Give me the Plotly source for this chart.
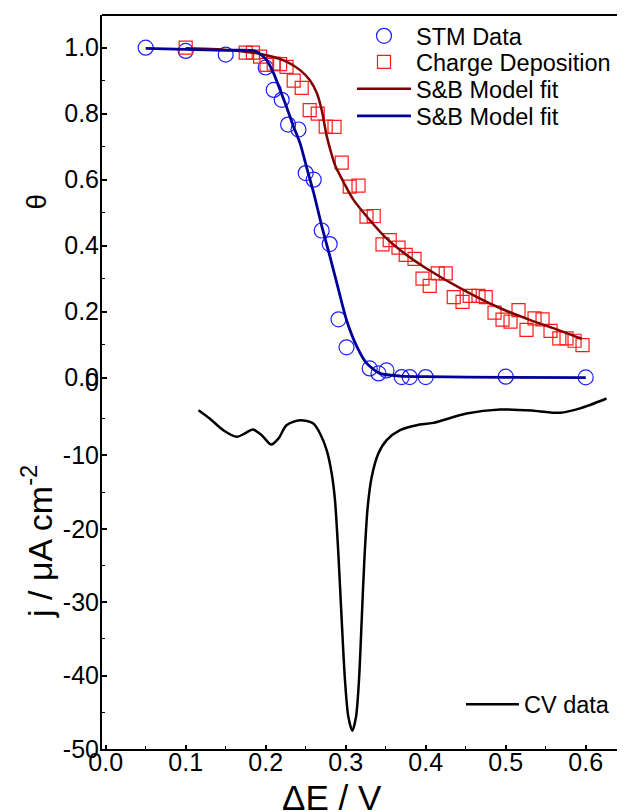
import plotly.graph_objects as go

# ---------------- data ----------------
stm_x = [0.05, 0.10, 0.15, 0.20, 0.21, 0.22, 0.228, 0.241, 0.25, 0.26, 0.27, 0.28,
         0.291, 0.301, 0.33, 0.341, 0.351, 0.37, 0.38, 0.40, 0.50, 0.60]
stm_theta = [1.0, 0.99, 0.979, 0.94, 0.872, 0.842, 0.767, 0.752, 0.62, 0.60, 0.446, 0.405,
             0.177, 0.092, 0.028, 0.013, 0.022, 0.002, 0.002, 0.002, 0.003, 0.001]

cd_x = [0.10, 0.175, 0.184, 0.193, 0.201, 0.21, 0.218, 0.226, 0.235, 0.245, 0.255, 0.265,
        0.275, 0.286, 0.295, 0.305, 0.316, 0.326, 0.335, 0.346, 0.355, 0.366, 0.375, 0.386,
        0.396, 0.405, 0.415, 0.425, 0.435, 0.446, 0.455, 0.466, 0.475, 0.486, 0.496, 0.506,
        0.516, 0.526, 0.536, 0.546, 0.556, 0.567, 0.576, 0.586, 0.596]
cd_theta = [1.0, 0.985, 0.985, 0.973, 0.948, 0.952, 0.95, 0.942, 0.90, 0.878, 0.811, 0.80,
            0.761, 0.76, 0.652, 0.579, 0.582, 0.488, 0.49, 0.404, 0.417, 0.394, 0.372, 0.36,
            0.30, 0.278, 0.316, 0.316, 0.244, 0.23, 0.248, 0.248, 0.244, 0.197, 0.176, 0.17,
            0.205, 0.145, 0.18, 0.177, 0.142, 0.119, 0.119, 0.112, 0.099]

fit_cd_x = [0.10, 0.164, 0.205, 0.226, 0.243, 0.255, 0.264, 0.27, 0.276, 0.282, 0.287,
            0.297, 0.31, 0.33, 0.351, 0.376, 0.401, 0.447, 0.489, 0.53, 0.572, 0.595]
fit_cd_theta = [0.998, 0.991, 0.975, 0.958, 0.932, 0.902, 0.862, 0.811, 0.735, 0.68, 0.642,
                0.594, 0.538, 0.478, 0.422, 0.372, 0.331, 0.266, 0.215, 0.175, 0.139, 0.118]

fit_stm_x = [0.05, 0.10, 0.15, 0.187, 0.201, 0.21, 0.218, 0.226, 0.234, 0.243, 0.252, 0.26,
             0.27, 0.28, 0.289, 0.301, 0.314, 0.326, 0.343, 0.368, 0.40, 0.50, 0.60]
fit_stm_theta = [0.998, 0.995, 0.992, 0.99, 0.963, 0.922, 0.872, 0.821, 0.766, 0.71, 0.63,
                 0.56, 0.46, 0.37, 0.286, 0.175, 0.094, 0.044, 0.013, 0.005, 0.003, 0.001, 0.0]

cv_x = [0.116, 0.130, 0.147, 0.164, 0.174, 0.184, 0.195, 0.207, 0.216, 0.226, 0.243, 0.2595,
        0.2679, 0.2762, 0.2825, 0.2866, 0.2908, 0.295, 0.2991, 0.3033, 0.3083, 0.3129,
        0.3166, 0.32, 0.3233, 0.3275, 0.3325, 0.3408, 0.3512, 0.3679, 0.3887, 0.4095,
        0.451, 0.493, 0.535, 0.568, 0.593, 0.626]
cv_j = [-3.84, -4.97, -6.57, -7.47, -7.0, -6.47, -7.25, -8.52, -7.7, -5.9, -5.2, -5.66,
        -7.02, -9.29, -12.47, -16.1, -23.37, -32.45, -40.63, -45.62, -47.53, -45.62,
        -40.63, -32.45, -24.28, -17.01, -12.93, -9.75, -7.93, -6.57, -5.89, -5.57,
        -4.3, -3.75, -3.9, -4.2, -3.6, -2.25]

x_ticks = [0.0, 0.1, 0.2, 0.3, 0.4, 0.5, 0.6]
theta_ticks = [0.0, 0.2, 0.4, 0.6, 0.8, 1.0]
j_ticks = [-50, -40, -30, -20, -10, 0]
j_tick_labels = ["-50", "-40", "-30", "-20", "-10", "0"]

FONT = "Liberation Sans, Arial, sans-serif"

fig = go.Figure()
fig.add_trace(go.Scatter(x=stm_x, y=stm_theta, mode="markers", name="STM Data",
                         yaxis="y2", cliponaxis=False, legend="legend",
                         marker=dict(symbol="circle-open", size=15, color="#1f1fff",
                                     line=dict(width=1.2, color="#1f1fff"))))
fig.add_trace(go.Scatter(x=cd_x, y=cd_theta, mode="markers", name="Charge Deposition",
                         yaxis="y2", cliponaxis=False, legend="legend3",
                         marker=dict(symbol="square-open", size=13, color="#ff1a1a",
                                     line=dict(width=1.2, color="#ff1a1a"))))
fig.add_trace(go.Scatter(x=fit_cd_x, y=fit_cd_theta, mode="lines", name="S&B Model fit",
                         yaxis="y2", legend="legend4",
                         line=dict(color="#800000", width=2.5, shape="spline", smoothing=0.8)))
fig.add_trace(go.Scatter(x=fit_stm_x, y=fit_stm_theta, mode="lines", name="S&B Model fit",
                         yaxis="y2", legend="legend5",
                         line=dict(color="#000099", width=2.8, shape="spline", smoothing=0.6)))
fig.add_trace(go.Scatter(x=cv_x, y=cv_j, mode="lines", name="CV data",
                         yaxis="y", legend="legend2",
                         line=dict(color="black", width=2.5, shape="spline", smoothing=0.8)))

TICKFONT = dict(family=FONT, size=25, color="black")
axis_common = dict(showline=True, linecolor="black", linewidth=2, showgrid=False,
                   zeroline=False, ticks="inside", tickcolor="black", tickwidth=1.5,
                   tickfont=TICKFONT)


def legend_box(x, y, width):
    return dict(x=x, y=y, xanchor="left", yanchor="middle", itemwidth=width,
                bgcolor="rgba(0,0,0,0)", font=dict(family=FONT, size=23.5, color="black"))


fig.update_layout(
    width=617, height=804,
    margin=dict(l=94, r=0, t=7, b=63, autoexpand=False),
    paper_bgcolor="white", plot_bgcolor="white",
    font=dict(family=FONT, color="black"),
    showlegend=True,
    xaxis=dict(range=[-0.0046, 0.6491], anchor="y", tickvals=x_ticks, tickformat=".1f",
               ticklen=4, ticklabelstandoff=-10,
               minor=dict(tick0=0, dtick=0.05, ticks="inside", ticklen=3,
                          tickcolor="black", tickwidth=1.2),
               **axis_common),
    yaxis=dict(domain=[0, 0.5], range=[-50, 0], anchor="x", tickvals=j_ticks,
               ticktext=j_tick_labels, ticklen=5, ticklabelstandoff=-4,
               minor=dict(tick0=0, dtick=5, ticks="inside", ticklen=3,
                          tickcolor="black", tickwidth=1.2),
               **axis_common),
    yaxis2=dict(domain=[0.5, 1], range=[-0.013, 1.099], anchor="x", tickvals=theta_ticks,
                tickformat=".1f", ticklen=5, ticklabelstandoff=-4,
                minor=dict(tick0=0, dtick=0.1, ticks="inside", ticklen=3,
                           tickcolor="black", tickwidth=1.2),
                **axis_common),
    legend=legend_box(0.478, 0.9713, 54),
    legend3=legend_box(0.478, 0.9359, 54),
    legend4=legend_box(0.478, 0.8991, 54),
    legend5=legend_box(0.478, 0.8623, 54),
    legend2=legend_box(0.6864, 0.0606, 53),
    shapes=[dict(type="line", xref="paper", yref="paper", x0=0, x1=1, y0=1, y1=1,
                 line=dict(color="black", width=2))],
    annotations=[
        dict(text="θ", xref="paper", yref="paper", x=-0.126, y=0.746, textangle=-90,
             showarrow=False, xanchor="center", yanchor="middle",
             font=dict(family=FONT, size=28, color="black")),
        dict(text="j / μA cm<sup>-2</sup>", xref="paper", yref="paper", x=-0.125, y=0.283,
             textangle=-90, showarrow=False, xanchor="center", yanchor="middle",
             font=dict(family=FONT, size=34, color="black")),
        dict(text="ΔE / V", xref="paper", yref="paper", x=0.4398, y=-0.066,
             showarrow=False, xanchor="center", yanchor="middle",
             font=dict(family=FONT, size=35, color="black")),
    ],
)

fig.write_html("out.html")
